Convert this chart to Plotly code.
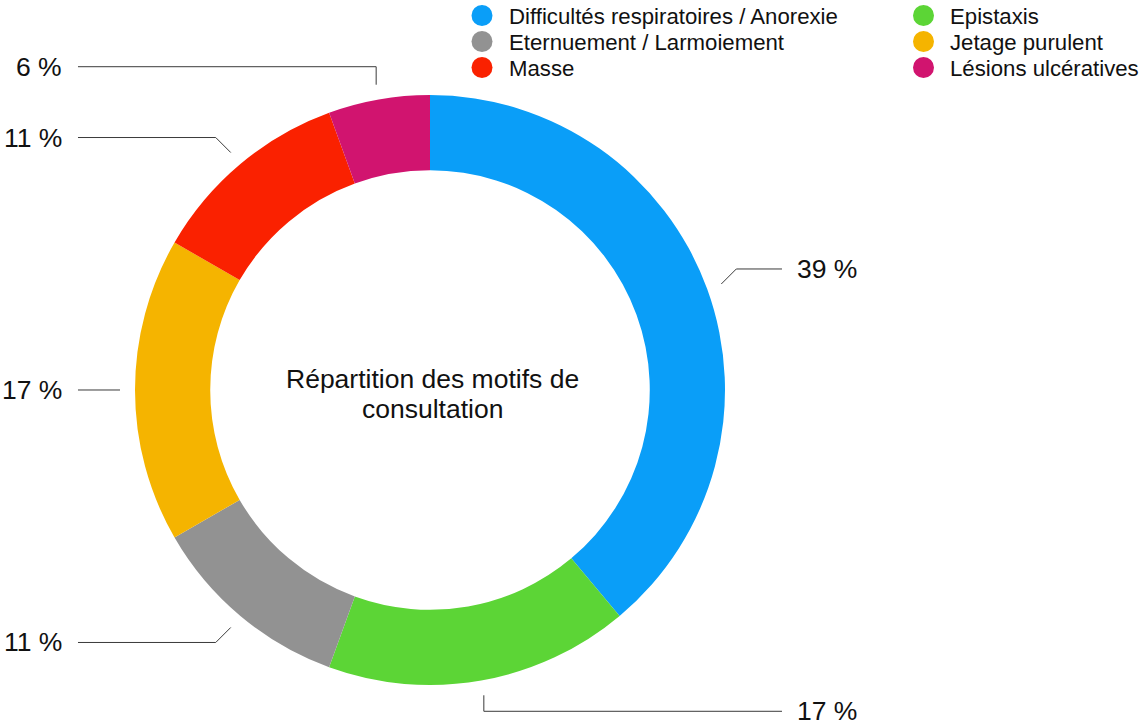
import math
import plotly.graph_objects as go

# ---- data ----
categories = [
    "Difficultés respiratoires / Anorexie",
    "Epistaxis",
    "Eternuement / Larmoiement",
    "Jetage purulent",
    "Masse",
    "Lésions ulcératives",
]
counts = [7, 3, 2, 3, 2, 1]
colors = ["#0A9EF8", "#5CD536", "#929292", "#F5B400", "#FA2100", "#D1146F"]
center_title = ["Répartition des motifs de", "consultation"]

# ---- layout constants (pixels) ----
W, H = 1142, 725
CX, CY, R = 430, 390, 295
HOLE = 0.745
FONT = "Liberation Sans, Arial, Helvetica, sans-serif"


def px(x):
    return x / W


def py(y):
    return 1 - y / H


fig = go.Figure()
fig.add_trace(go.Pie(
    labels=categories,
    values=counts,
    sort=False,
    direction="clockwise",
    rotation=0,
    hole=HOLE,
    marker=dict(colors=colors, line=dict(width=0)),
    textinfo="none",
    hoverinfo="label+percent",
    showlegend=False,
    domain=dict(x=[px(CX - R), px(CX + R)], y=[py(CY + R), py(CY - R)]),
))

shapes = []
annotations = []

# ---- leader lines and percentage labels, computed from the data ----
total = sum(counts)
cum = 0
R1 = R + 15
for v in counts:
    mid = (cum + v / 2) / total * 2 * math.pi
    cum += v
    s, c = math.sin(mid), math.cos(mid)
    x0, y0 = CX + R1 * s, CY - R1 * c
    pts = [(x0, y0)]
    right = s > 0
    if abs(s) < 0.25:
        ey = y0 - 18 if c > 0 else y0 + 16
        pts.append((x0, ey))
    elif abs(c) < 0.25:
        ey = y0
    else:
        ex = x0 + (15 if right else -15)
        ey = y0 - 15 if c > 0 else y0 + 15
        pts.append((ex, ey))
    xend = 782 if right else 78
    pts.append((xend, ey))
    path = "M " + " L ".join(f"{px(a):.5f},{py(b):.5f}" for a, b in pts)
    shapes.append(dict(type="path", xref="paper", yref="paper", path=path,
                       line=dict(color="#3a3a3a", width=1)))
    pct = round(v / total * 100)
    annotations.append(dict(
        xref="paper", yref="paper",
        x=px(xend + 13) if right else px(xend - 14),
        y=py(ey),
        xanchor="left" if right else "right", yanchor="middle",
        text=f"{pct} %", showarrow=False,
        font=dict(family=FONT, size=26.5, color="#111111"),
    ))

# ---- centre title ----
for i, line in enumerate(center_title):
    annotations.append(dict(
        xref="paper", yref="paper", x=px(CX + 2), y=py(379 + 30 * i),
        xanchor="center", yanchor="middle", text=line, showarrow=False,
        font=dict(family=FONT, size=26.5, color="#111111"),
    ))

# ---- legend (2 columns, row-major) ----
col_x = [482, 923.5]
row_y = [15.5, 41.5, 67.5]
rad = 10.5
for i, (cat, col) in enumerate(zip(categories, colors)):
    cx = col_x[i % 2]
    cy = row_y[i // 2]
    shapes.append(dict(type="circle", xref="paper", yref="paper",
                       x0=px(cx - rad), x1=px(cx + rad),
                       y0=py(cy + rad), y1=py(cy - rad),
                       fillcolor=col, line=dict(width=0)))
    annotations.append(dict(
        xref="paper", yref="paper", x=px(cx + 24.5), y=py(cy + 1),
        xanchor="left", yanchor="middle", text=cat, showarrow=False,
        font=dict(family=FONT, size=22.2, color="#111111"),
    ))

fig.update_layout(
    width=W, height=H,
    margin=dict(l=0, r=0, t=0, b=0, autoexpand=False),
    paper_bgcolor="white", plot_bgcolor="white",
    shapes=shapes, annotations=annotations,
    showlegend=False,
)

fig.write_html(
    "out.html",
    config={"displayModeBar": False},
    post_script="document.body.style.margin='0px';document.body.style.overflow='hidden';",
)
